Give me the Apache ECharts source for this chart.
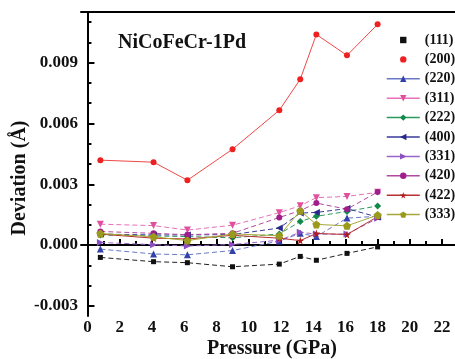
<!DOCTYPE html>
<html>
<head>
<meta charset="utf-8">
<script src="https://cdn.jsdelivr.net/npm/echarts@6/dist/echarts.min.js"></script>
<style>
  html, body { margin: 0; padding: 0; background: #ffffff; }
  #chart { width: 455px; height: 359px; }
</style>
</head>
<body>
<div id="chart"></div>
<script>
// Pressure points (GPa) shared by every reflection
const pressure = [0.8, 4.1, 6.2, 9.0, 11.9, 13.2, 14.2, 16.1, 18.0];

// Deviation (Å) of each reflection
const dev111 = [-0.00061, -0.00082, -0.00087, -0.00107, -0.00094, -0.00056, -0.00075, -0.00041, -0.00009];
const dev200 = [0.00419, 0.00409, 0.00320, 0.00473, 0.00665, 0.00818, 0.01039, 0.00936, 0.01089];
const dev220 = [-0.00020, -0.00044, -0.00048, -0.00027, 0.00020, 0.00058, 0.00042, 0.00133, 0.00142];
const dev311 = [0.00103, 0.00096, 0.00074, 0.00098, 0.00160, 0.00194, 0.00234, 0.00240, 0.00260];
const dev222 = [0.00050, 0.00045, 0.00042, 0.00036, 0.00055, 0.00116, 0.00142, 0.00166, 0.00193];
const dev400 = [0.00054, 0.00050, 0.00050, 0.00052, 0.00084, 0.00158, 0.00161, 0.00180, 0.00138];
const dev331 = [0.00013, 0.00002, -0.00005, 0.00003, 0.00024, 0.00063, 0.00054, 0.00054, 0.00132];
const dev420 = [0.00067, 0.00058, 0.00051, 0.00058, 0.00136, 0.00170, 0.00207, 0.00177, 0.00262];
const dev422 = [0.00054, 0.00034, 0.00030, 0.00048, 0.00034, 0.00022, 0.00057, 0.00052, 0.00140];
const dev333 = [0.00057, 0.00041, 0.00022, 0.00055, 0.00046, 0.00169, 0.00102, 0.00095, 0.00148];

const reflections = ['(111)', '(200)', '(220)', '(311)', '(222)', '(400)', '(331)', '(420)', '(422)', '(333)'];

// Axis tick positions
const xMajorTicks = [0, 2, 4, 6, 8, 10, 12, 14, 16, 18, 20, 22];
const xMinorTicks = [1, 3, 5, 7, 9, 11, 13, 15, 17, 19, 21];
const yMajorTicks = [-0.003, 0, 0.003, 0.006, 0.009];
const yMinorTicks = [-0.002, -0.001, 0.001, 0.002, 0.004, 0.005, 0.007, 0.008, 0.010, 0.011];

const chartTitle = 'NiCoFeCr-1Pd';
const xTitle = 'Pressure (GPa)';
const yTitle = 'Deviation (Å)';

const SERIF = '"Liberation Serif", "Times New Roman", serif';
const STAR = 'path://M50,0 L61,35 L98,35 L68,57 L79,91 L50,70 L21,91 L32,57 L2,35 L39,35 Z';
const PENTAGON = 'path://M50,0 L98,36 L80,94 L20,94 L2,36 Z';

function pairs(values) {
  return pressure.map((p, i) => [p, values[i]]);
}

function lineSeries(name, values, color, lineColor, symbol, opts) {
  opts = opts || {};
  return {
    name: name,
    type: 'line',
    data: pairs(values),
    symbol: symbol,
    symbolSize: opts.size || 6,
    symbolRotate: opts.rotate || 0,
    itemStyle: { color: color },
    lineStyle: { color: lineColor, width: 1, type: opts.dash === false ? 'solid' : [5, 3] },
    emphasis: { disabled: true },
    animation: false,
    z: opts.z || 2
  };
}

const series = [
  lineSeries(reflections[0], dev111, '#111111', '#222222', 'rect', { size: 5 }),
  lineSeries(reflections[1], dev200, '#ee2020', '#f04848', 'circle', { size: 6, dash: false }),
  lineSeries(reflections[2], dev220, '#3242a8', '#6a78c8', 'triangle', { size: 7 }),
  lineSeries(reflections[3], dev311, '#e0509e', '#e870b6', 'triangle', { size: 7, rotate: 180 }),
  lineSeries(reflections[4], dev222, '#0f8a48', '#2c9a5c', 'diamond', { size: 7 }),
  lineSeries(reflections[5], dev400, '#28288c', '#3a3a9c', 'triangle', { size: 7, rotate: 90 }),
  lineSeries(reflections[6], dev331, '#8a4ec2', '#9a66cc', 'triangle', { size: 7, rotate: -90 }),
  lineSeries(reflections[7], dev420, '#a01e8c', '#b04aa0', 'circle', { size: 6 }),
  lineSeries(reflections[8], dev422, '#b01c1c', '#b83030', STAR, { size: 8, dash: false }),
  lineSeries(reflections[9], dev333, '#9a9a1c', '#a8a838', PENTAGON, { size: 8, dash: false })
];

const axisLineStyle = { show: true, lineStyle: { color: '#000000', width: 2 } };
const labelFont = { fontFamily: SERIF, fontWeight: 'bold', fontSize: 17, color: '#111111' };

const option = {
  backgroundColor: '#ffffff',
  animation: false,
  grid: { left: 81, top: 12, right: 0, bottom: 43, containLabel: false },
  xAxis: [
    {
      type: 'value', min: -0.4, max: 22.8, position: 'bottom',
      axisLine: axisLineStyle,
      axisTick: { show: true, inside: true, length: 6, customValues: xMajorTicks, lineStyle: { color: '#000', width: 2 } },
      axisLabel: Object.assign({ customValues: xMajorTicks, margin: 3, formatter: v => String(v) }, labelFont),
      splitLine: { show: false }
    },
    {
      type: 'value', min: -0.4, max: 22.8, position: 'bottom',
      axisLine: { show: false },
      axisTick: { show: true, inside: true, length: 4, customValues: xMinorTicks, lineStyle: { color: '#000', width: 2 } },
      axisLabel: { show: false },
      splitLine: { show: false }
    },
    {
      type: 'value', min: -0.4, max: 22.8, position: 'top',
      axisLine: axisLineStyle,
      axisTick: { show: false },
      axisLabel: { show: false },
      splitLine: { show: false }
    }
  ],
  yAxis: [
    {
      type: 'value', min: -0.0035, max: 0.0115, position: 'left',
      axisLine: axisLineStyle,
      axisTick: { show: true, inside: true, length: 7, customValues: yMajorTicks, lineStyle: { color: '#000', width: 2 } },
      axisLabel: Object.assign({ customValues: yMajorTicks, margin: 3, formatter: v => v.toFixed(3) }, labelFont),
      splitLine: { show: false }
    },
    {
      type: 'value', min: -0.0035, max: 0.0115, position: 'left',
      axisLine: { show: false },
      axisTick: { show: true, inside: true, length: 4, customValues: yMinorTicks, lineStyle: { color: '#000', width: 2 } },
      axisLabel: { show: false },
      splitLine: { show: false }
    }
  ],
  legend: {
    orient: 'vertical',
    left: 386,
    top: 33,
    padding: 0,
    itemWidth: 33,
    itemHeight: 8,
    itemGap: 5.4,
    selectedMode: false,
    textStyle: { fontFamily: SERIF, fontWeight: 'bold', fontSize: 14, color: '#111111' },
    lineStyle: { type: 'solid', width: 1.5 },
    data: reflections.map((name, i) => i < 2 ? { name: name, lineStyle: { opacity: 0 } } : { name: name })
  },
  graphic: [
    {
      type: 'text', left: 118, top: 33,
      style: { text: chartTitle, font: 'bold 20px ' + SERIF, fill: '#111111' }
    },
    {
      type: 'text', x: 272, y: 349,
      style: { text: xTitle, font: 'bold 20px ' + SERIF, fill: '#111111', align: 'center', verticalAlign: 'middle' }
    },
    {
      type: 'text', x: 20, y: 178, rotation: Math.PI / 2,
      style: { text: yTitle, font: 'bold 20px ' + SERIF, fill: '#111111', align: 'center', verticalAlign: 'middle' }
    }
  ],
  series: series
};

const chart = echarts.init(document.getElementById('chart'), null, { renderer: 'canvas' });
chart.setOption(option);
</script>
</body>
</html>
